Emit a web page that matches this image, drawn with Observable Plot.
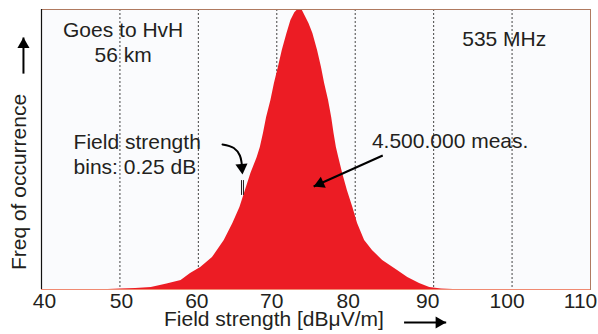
<!DOCTYPE html>
<html><head><meta charset="utf-8">
<script src="https://cdn.jsdelivr.net/npm/d3@7"></script>
<script src="https://cdn.jsdelivr.net/npm/@observablehq/plot@0.6"></script>
<style>
html,body{margin:0;padding:0;background:#fff}
svg{display:block}
</style>
</head><body><div id="chart"></div>
<script>
// Histogram outline: field strength [dBµV/m] vs relative frequency of occurrence (peak = 100)
const fieldStrength = [48.5,50,52,54,56,57.8,59,60.3,61.8,63.3,64.4,65.3,66.0,66.7,67.5,67.9,68.3,68.7,69.25,69.7,70.2,70.7,71.3,71.8,72.3,72.7,73.2,74.1,74.6,75.2,75.7,76.1,76.6,77.0,77.3,77.6,77.9,78.4,79.0,79.7,80.3,81.2,82.2,83.5,85.4,86.7,88.2,89.5,91,92.5];
const frequency = [0,0.2,0.4,0.7,2.0,3.2,5.7,7.9,11.4,17.5,23.6,29.3,35.4,41.4,47.1,50.7,55.7,61.4,67.5,73.6,79.3,85.4,91.4,96.1,98.8,100,100,95,91.4,85.4,79.3,73.6,67.5,61.4,55.7,50.7,47.1,41.4,35.4,29.3,23.6,17.5,13.9,10.4,6.8,4.3,2.1,0.7,0.2,0];

// Axis
const xTicks = [40,50,60,70,80,90,100,110];
const gridTicks = [50,60,70,80,90,100];
const xTitle = "Field strength [dBμV/m]";
const yTitle = "Freq of occurrence";

// Annotations (centered)
const noteText = ["Goes to HvH\n56 km", "535 MHz", "4.500.000 meas."];
const noteX = [50.41, 99.0, 92.1];
const noteY = [81.4, 87.1, 50.7];
// Annotation (left aligned)
const binText = ["Field strength\nbins: 0.25 dB"];
const binX = [44.09];
const binY = [41.4];
// Bin-width marker
const binMarkX = [65.5, 65.75];
const binMarkY1 = [33.6, 33.6];
const binMarkY2 = [38.9, 38.9];

// Straight arrow shafts: meas. arrow, y-axis arrow, x-axis arrow
const shaftX1 = [83.51, 37.7, 86.23];
const shaftY1 = [47.86, 77.1, -11.8];
const shaftX2 = [74.70, 37.7, 91.6];
const shaftY2 = [36.79, 90.0, -11.8];
// Curved arrow path (from "Field strength" text to the bin marker)
const curveX = [63.08, 64.52, 65.29, 65.61];
const curveY = [51.79, 50.54, 47.86, 42.5];
// Arrow heads
const headX = [75.52, 37.7, 90.70, 65.54];
const headY = [37.82, 87.5, -11.8, 43.57];
const headRotate = [-114.2, 0, 90, 174.3];

// horizontal nudge (px) of each tick label, as drawn in the original
const tickNudge = [3, 1.5, -1.5, -5, -7, -6, -5, -10];

const dist = fieldStrength.map((v, i) => ({v, f: frequency[i]}));
const idx = (a) => a.map((_, i) => i);
const font = "'Liberation Sans', Arial, Helvetica, sans-serif";
const ink = "#231f20";

const chart = Plot.plot({
  width: 598,
  height: 334,
  marginLeft: 41,
  marginRight: 8,
  marginTop: 9,
  marginBottom: 45,
  style: {fontFamily: font, fontSize: "21px", color: ink, background: "#ffffff", overflow: "visible"},
  x: {domain: [40, 110], label: null},
  y: {domain: [0, 100], label: null, axis: null},
  marks: [
    Plot.frame({fill: "#fafbfd", stroke: null}),
    Plot.ruleX(gridTicks, {stroke: "#444", strokeWidth: 1, strokeDasharray: "2,2"}),
    Plot.areaY(dist, {x: "v", y: "f", fill: "#ec1c24", curve: "linear"}),
    Plot.frame({stroke: "#b07a60", strokeWidth: 1}),
    Plot.ruleX([40], {stroke: "#111", strokeWidth: 1.2}),
    Plot.ruleY([0], {stroke: "#f08a72", strokeWidth: 1}),
    ...xTicks.map((t, i) => Plot.axisX({ticks: [t], tickSize: 0, tickPadding: 4, fontSize: 21, dx: tickNudge[i], fill: ink, tickFormat: d => String(d)})),
    Plot.text([xTitle], {x: 69.63, y: -13.0, text: d => d, fontSize: 21, lineAnchor: "bottom", fill: ink}),
    Plot.text([yTitle], {x: 37.96, y: 38.4, text: d => d, fontSize: 21, rotate: -90, lineAnchor: "bottom", fill: ink}),
    Plot.text(idx(noteText), {x: i => noteX[i], y: i => noteY[i], text: i => noteText[i], fontSize: 21, lineAnchor: "bottom", lineHeight: 1.19, textAnchor: "middle", fill: ink}),
    Plot.text(idx(binText), {x: i => binX[i], y: i => binY[i], text: i => binText[i], fontSize: 21, lineAnchor: "bottom", lineHeight: 1.19, textAnchor: "start", fill: ink}),
    Plot.ruleX(idx(binMarkX), {x: i => binMarkX[i], y1: i => binMarkY1[i], y2: i => binMarkY2[i], stroke: ink, strokeWidth: 1}),
    Plot.link(idx(shaftX1), {x1: i => shaftX1[i], y1: i => shaftY1[i], x2: i => shaftX2[i], y2: i => shaftY2[i], stroke: "#000", strokeWidth: 2}),
    Plot.line(idx(curveX), {x: i => curveX[i], y: i => curveY[i], curve: "catmull-rom", stroke: "#000", strokeWidth: 2}),
    Plot.dot(idx(headX), {x: i => headX[i], y: i => headY[i], rotate: i => headRotate[i], symbol: "triangle", r: 4.5, fill: "#000", stroke: null})
  ]
});
document.getElementById("chart").appendChild(chart);
</script>
</body></html>
